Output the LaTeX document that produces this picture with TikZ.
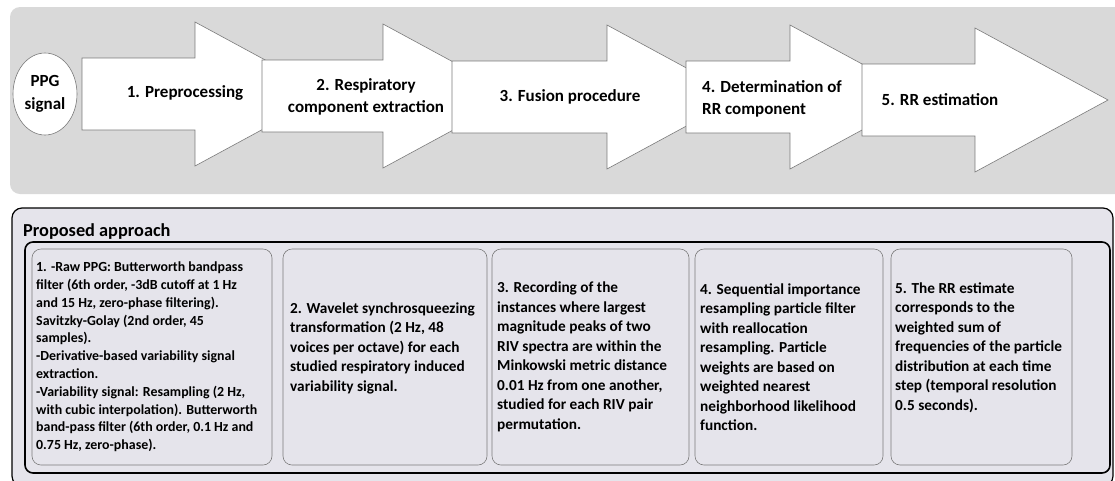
\documentclass[tikz,border=0pt]{standalone}
\usepackage{fontspec}
\setmainfont{Carlito}
\usepackage{xcolor}
\usetikzlibrary{shapes.geometric}

\definecolor{panelgray}{HTML}{D9D9D9}
\definecolor{approachfill}{HTML}{E5E4EB}
\definecolor{edgegray}{HTML}{7A7A7A}

\begin{document}
\begin{tikzpicture}[x=1pt,y=-1pt,
    blockarrow/.style={fill=white, draw=edgegray, line width=0.6pt},
    steplabel/.style={font=\fontsize{17}{22}\selectfont\bfseries, align=center, inner sep=0pt},
    detailbox/.style={fill=approachfill, draw=edgegray, line width=0.6pt, rounded corners=9pt},
    detailtext/.style={font=\fontsize{15.3}{19.5}\selectfont\bfseries, align=left, anchor=west, inner sep=0pt}]
\useasboundingbox (0,0) rectangle (1115,480);
% Upper panel: processing chain
\fill[panelgray, rounded corners=10pt] (10,7) rectangle (1125,194);
\node[ellipse, draw=edgegray, fill=white, line width=0.6pt, minimum width=64pt, minimum height=82pt,
      inner sep=0pt, align=center, font=\fontsize{17}{23}\selectfont\bfseries] (ppg) at (45,94) {PPG\\signal};
% Block arrows: left end / start of head / centre line
\foreach \l/\h/\c in {82/195/94, 262/383/96, 452/607/97, 686/790/97, 862/975/100} {
  \draw[blockarrow] (\l,\c-36) -- (\h,\c-36) -- (\h,\c-72) -- (\h+133,\c)
        -- (\h,\c+72) -- (\h,\c+36) -- (\l,\c+36) -- cycle;
}
\node[steplabel] (pre) at (185,93) {1. Preprocessing};
\node[steplabel] (resp) at (366,97) {2. Respiratory\\component extraction};
\node[steplabel] (fusion) at (570,97) {3. Fusion procedure};
\node[steplabel, align=left, anchor=west] (rrcomp) at (702,99) {4. Determination of\\RR component};
\node[steplabel] (rrest) at (940,100) {5. RR estimation};
% Lower panel: proposed approach
\draw[fill=approachfill, line width=1.2pt, rounded corners=10pt] (12,208) rectangle (1113,486);
\node[anchor=west, inner sep=0pt, font=\fontsize{18.3}{22}\selectfont\bfseries] (title) at (23,232) {Proposed approach};
\draw[line width=1.6pt, rounded corners=8pt] (25,242) rectangle (1110,473);
\foreach \a/\b in {32/272, 283/487, 492/689, 695/883, 891/1072}
  \draw[detailbox] (\a,249) rectangle (\b,465);
\node[detailtext, font=\fontsize{13.9}{17.8}\selectfont\bfseries] (prep) at (36,357)
  {1. -Raw PPG: Butterworth bandpass\\
   filter (6th order, -3dB cutoff at 1 Hz\\
   and 15 Hz, zero-phase filtering).\\
   Savitzky-Golay (2nd order, 45\\
   samples).\\
   -Derivative-based variability signal\\
   extraction.\\
   -Variability signal: Resampling (2 Hz,\\
   with cubic interpolation). Butterworth\\
   band-pass filter (6th order, 0.1 Hz and\\
   0.75 Hz, zero-phase).};
\node[detailtext] (wsst) at (290,348)
  {2. Wavelet synchrosqueezing\\
   transformation (2 Hz, 48\\
   voices per octave) for each\\
   studied respiratory induced\\
   variability signal.};
\node[detailtext] (fuse) at (497,357)
  {3. Recording of the\\
   instances where largest\\
   magnitude peaks of two\\
   RIV spectra are within the\\
   Minkowski metric distance\\
   0.01 Hz from one another,\\
   studied for each RIV pair\\
   permutation.};
\node[detailtext] (sir) at (700,357)
  {4. Sequential importance\\
   resampling particle filter\\
   with reallocation\\
   resampling. Particle\\
   weights are based on\\
   weighted nearest\\
   neighborhood likelihood\\
   function.};
\node[detailtext] (estimate) at (895,347.5)
  {5. The RR estimate\\
   corresponds to the\\
   weighted sum of\\
   frequencies of the particle\\
   distribution at each time\\
   step (temporal resolution\\
   0.5 seconds).};
\end{tikzpicture}
\end{document}
